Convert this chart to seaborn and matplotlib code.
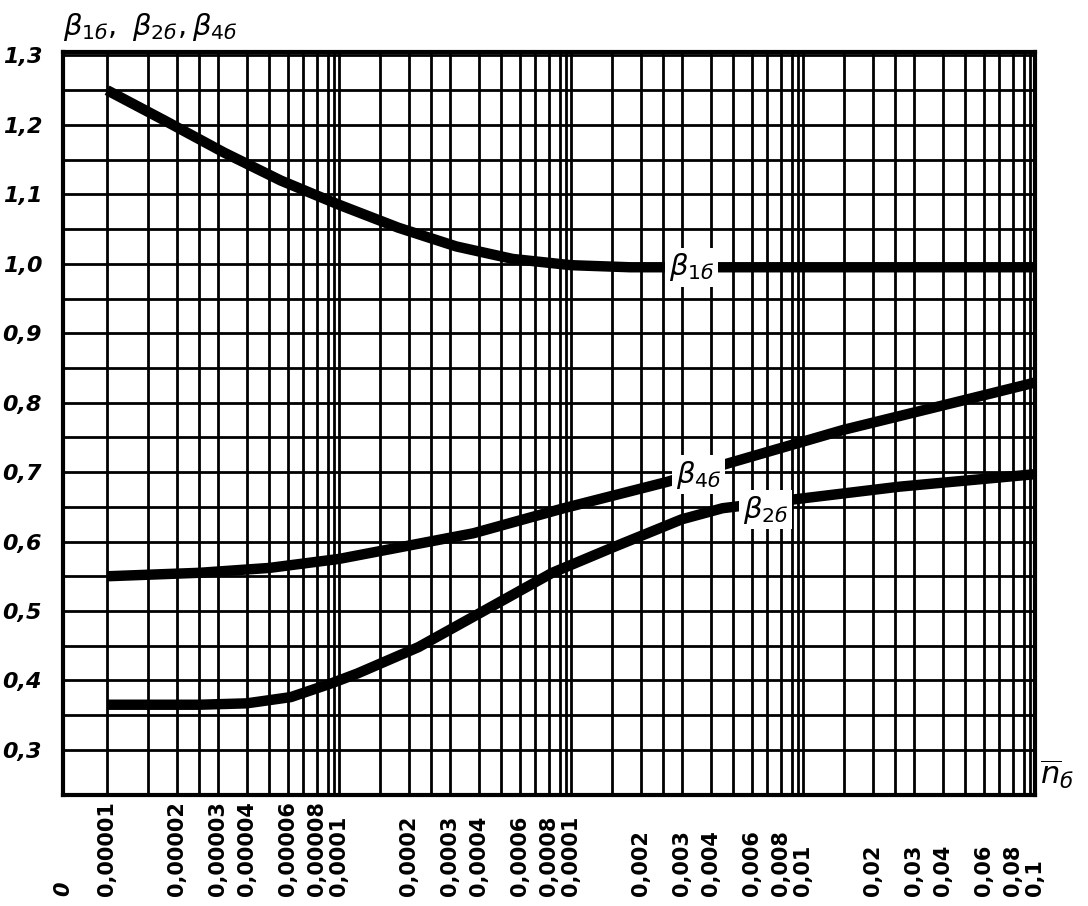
import matplotlib
matplotlib.use("Agg")
import matplotlib.pyplot as plt
import matplotlib.transforms as mtransforms
import pandas as pd
import seaborn as sns

# кривые (x - доля, логарифмическая шкала)
b1_x = [1e-5, 1.8e-5, 3.2e-5, 5.6e-5, 1e-4, 1.8e-4, 3.2e-4, 5.6e-4, 1e-3, 1.8e-3, 1e-2, 1e-1]
b1_y = [1.25, 1.205, 1.16, 1.12, 1.085, 1.052, 1.025, 1.007, 0.998, 0.995, 0.995, 0.995]

b4_x = [1e-5, 2.5e-5, 5e-5, 1e-4, 3.8e-4, 9.3e-4, 2.6e-3, 4.8e-3, 1.5e-2, 5e-2, 1e-1]
b4_y = [0.55, 0.555, 0.562, 0.575, 0.612, 0.648, 0.686, 0.713, 0.761, 0.804, 0.829]

b2_x = [1e-5, 2.5e-5, 4e-5, 6.2e-5, 9.3e-5, 1.2e-4, 2.2e-4, 4.2e-4, 8.3e-4, 1.5e-3,
        3e-3, 4.5e-3, 8.8e-3, 2.6e-2, 1e-1]
b2_y = [0.365, 0.365, 0.367, 0.376, 0.396, 0.41, 0.448, 0.50, 0.555, 0.591,
        0.632, 0.648, 0.66, 0.679, 0.697]

# подписи оси x (как на оригинале)
x_tick_values = [1e-5, 2e-5, 3e-5, 4e-5, 6e-5, 8e-5, 1e-4, 2e-4, 3e-4, 4e-4, 6e-4, 8e-4,
                 1e-3, 2e-3, 3e-3, 4e-3, 6e-3, 8e-3, 1e-2, 2e-2, 3e-2, 4e-2, 6e-2, 8e-2, 1e-1]
x_tick_labels = ["0,00001", "0,00002", "0,00003", "0,00004", "0,00006", "0,00008", "0,0001",
                 "0,0002", "0,0003", "0,0004", "0,0006", "0,0008", "0,0001",
                 "0,002", "0,003", "0,004", "0,006", "0,008", "0,01",
                 "0,02", "0,03", "0,04", "0,06", "0,08", "0,1"]

y_label_values = [0.3, 0.4, 0.5, 0.6, 0.7, 0.8, 0.9, 1.0, 1.1, 1.2, 1.3]

curve_names = ["$\\beta_{1б}$", "$\\beta_{4б}$", "$\\beta_{2б}$"]
curve_label_pos = [(3.3e-3, 0.995), (3.55e-3, 0.696), (6.9e-3, 0.646)]

X_LEFT = 10 ** -5.19

sns.set_theme(style="white")
plt.rcParams["font.family"] = ["DejaVu Sans"]
plt.rcParams["mathtext.fontset"] = "dejavusans"
plt.rcParams["text.color"] = "black"

fig = plt.figure(figsize=(10.88, 9.06), dpi=100)
ax = fig.add_axes([63 / 1088, 1 - 795 / 906, (1035 - 63) / 1088, (795 - 52) / 906])

df = pd.concat([
    pd.DataFrame({"x": b1_x, "y": b1_y, "curve": "b1"}),
    pd.DataFrame({"x": b4_x, "y": b4_y, "curve": "b4"}),
    pd.DataFrame({"x": b2_x, "y": b2_y, "curve": "b2"}),
])
sns.lineplot(data=df, x="x", y="y", hue="curve", units="curve", estimator=None,
             palette=["black"] * 3, linewidth=7.5, legend=False, ax=ax,
             solid_capstyle="butt", zorder=3)

ax.set_xscale("log")
ax.set_xlim(X_LEFT, 0.1)
ax.set_ylim(0.235, 1.305)

# сетка: по 1; 1,5; 2; 2,5; 3 ... 9; 9,5 в каждой декаде
grid_x = [m * 10 ** p for p in range(-5, -1) for m in [1, 1.5, 2, 2.5, 3, 4, 5, 6, 7, 8, 9, 9.5]]
grid_y = [0.3 + 0.05 * i for i in range(21)]
ax.set_xticks(grid_x, minor=False)
ax.set_xticks([], minor=True)
ax.set_xticklabels([])
ax.set_yticks(grid_y)
ax.set_yticklabels([("%.1f" % v).replace(".", ",") if any(abs(v - t) < 1e-6 for t in y_label_values) else ""
                    for v in grid_y],
                   fontsize=16, fontstyle="italic", fontweight="bold")
ax.tick_params(axis="both", length=0, pad=15, labelcolor="black")
ax.grid(True, which="major", color="black", linewidth=2.0)
for s in ax.spines.values():
    s.set_color("black")
    s.set_linewidth(3)

# подписи оси x, повернутые, выровненные по нижнему краю
trans = mtransforms.blended_transform_factory(ax.transData, ax.transAxes)
ax.text(X_LEFT, -0.136, "0", transform=trans, rotation=90, ha="center", va="bottom",
        fontsize=15, fontstyle="italic", fontweight="bold", clip_on=False)
for v, lab in zip(x_tick_values, x_tick_labels):
    ax.text(v, -0.136, lab, transform=trans, rotation=90, ha="center", va="bottom",
            fontsize=15, fontweight="bold", clip_on=False)

for name, (px, py) in zip(curve_names, curve_label_pos):
    ax.text(px, py, name, ha="center", va="center", fontsize=21, zorder=5,
            bbox=dict(boxstyle="square,pad=0.12", facecolor="white", edgecolor="none"))

ax.text(0.0, 1.012, "$\\beta_{1б},\\ \\beta_{2б},\\beta_{4б}$", transform=ax.transAxes,
        ha="left", va="bottom", fontsize=21)
ax.text(1.005, 0.005, "$\\overline{n}_{б}$", transform=ax.transAxes,
        ha="left", va="bottom", fontsize=22)

ax.set_xlabel("")
ax.set_ylabel("")
fig.savefig("out.png", dpi=100)
